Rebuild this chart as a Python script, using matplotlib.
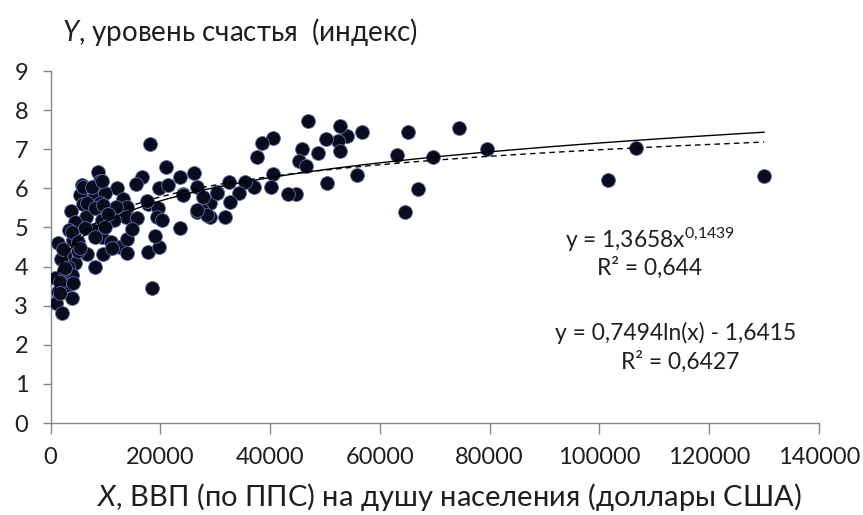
import matplotlib
matplotlib.use('Agg')
import matplotlib.pyplot as plt
import numpy as np

WIDTH = 863
HEIGHT = 515
DPI = 100

# GDP per capita (PPP, USD) and happiness index
gdp = [
    130000, 101600, 106700, 79600, 74500, 69600, 67000, 65200, 64500, 63200,
    56700, 54000, 52700, 52300, 50100, 52700, 48700, 46900, 45900, 45200,
    46500, 55900, 50300, 44700, 43200, 40500, 38500, 37600, 40500, 40100,
    37000, 35400, 34300, 32500, 32700, 31700, 29000, 29000, 30300, 27600,
    18100, 21000, 23600, 26100, 26700, 24100, 27800, 26700, 28500, 23600,
    19800, 16700, 15600, 12100, 8700, 9000, 5700, 5400, 7900, 9900,
    9000, 5900, 3700, 13200, 13900, 11900, 13700, 15700, 17700, 19600,
    19400, 20400, 6500, 9400, 4500, 3400, 7800, 9400, 11000, 12600,
    13900, 13900, 6600, 9600, 8100, 4500, 1400, 2600, 3200, 800,
    3900, 3000, 1400, 3900, 1000, 2100, 17700, 19800, 19000, 18400,
    4100, 3900, 5000, 6300, 8100, 6000, 7500, 9400, 6600, 8100,
    9600, 11500, 9900, 2000, 2500, 1800, 5000, 21400, 24100, 30300,
    17500, 26700, 5400, 11200, 2600, 4100, 1700, 2300, 10500, 14800,
]
happiness = [
    6.32, 6.21, 7.03, 7.00, 7.54, 6.80, 5.98, 7.44, 5.40, 6.85,
    7.45, 7.34, 7.60, 7.21, 7.26, 6.96, 6.90, 7.72, 7.00, 6.70,
    6.57, 6.34, 6.14, 5.86, 5.86, 7.29, 7.16, 6.80, 6.37, 6.04,
    6.04, 6.16, 5.88, 6.16, 5.65, 5.27, 5.27, 5.63, 5.91, 5.45,
    7.13, 6.55, 6.29, 6.39, 6.04, 5.86, 5.78, 5.40, 5.32, 4.99,
    6.01, 6.29, 6.11, 6.01, 6.42, 6.19, 6.09, 5.83, 5.78, 5.88,
    5.63, 5.60, 5.42, 5.73, 5.52, 5.52, 5.27, 5.24, 5.60, 5.50,
    5.27, 5.20, 5.27, 5.19, 5.14, 4.94, 4.94, 4.76, 4.63, 4.50,
    4.71, 4.35, 4.32, 4.32, 3.99, 4.09, 4.60, 4.30, 3.99, 3.71,
    3.79, 3.53, 3.35, 3.20, 3.07, 2.81, 4.37, 4.50, 4.78, 3.45,
    4.68, 4.88, 4.63, 4.99, 4.76, 6.04, 6.04, 6.20, 5.63, 5.50,
    5.58, 5.19, 5.01, 4.20, 3.90, 3.60, 4.40, 6.09, 5.83, 5.88,
    5.68, 5.45, 4.48, 4.48, 3.96, 3.58, 3.32, 4.45, 5.35, 4.95,
]

# trend lines as printed on the chart
pow_a, pow_b = 1.3658, 0.1439
log_a, log_b = 0.7494, -1.6415

y_ticks = list(range(0, 10))
x_ticks = list(range(0, 140001, 20000))

plt.rcParams['font.family'] = ['Lato', 'Noto Sans', 'DejaVu Sans']
plt.rcParams['mathtext.fontset'] = 'custom'
plt.rcParams['mathtext.rm'] = 'Lato'
plt.rcParams['mathtext.it'] = 'Lato:italic'

TXT = '#1e1e1e'
AXC = '#868686'

fig = plt.figure(figsize=(WIDTH / DPI, HEIGHT / DPI), dpi=DPI)
ax = fig.add_axes([50.5 / WIDTH, 92 / HEIGHT, 768.5 / WIDTH, 352 / HEIGHT])

ax.scatter(gdp, happiness, s=100, facecolor='#0a0c1e', edgecolor='#5d6da8',
           linewidth=0.6, zorder=3)

xs = np.linspace(min(gdp), max(gdp), 400)
ax.plot(xs, pow_a * xs ** pow_b, color='black', lw=1.0, zorder=4)
ax.plot(xs, log_a * np.log(xs) + log_b, color='black', lw=1.0,
        dashes=(4, 3), zorder=4)

ax.set_xlim(0, 140000)
ax.set_ylim(0, 9)
ax.set_xticks(x_ticks)
ax.set_yticks(y_ticks)
ax.set_xticklabels([str(v) for v in x_ticks])
ax.set_yticklabels([str(v) for v in y_ticks])

for side in ('top', 'right'):
    ax.spines[side].set_visible(False)
for side in ('left', 'bottom'):
    ax.spines[side].set_color(AXC)
    ax.spines[side].set_linewidth(1.0)
ax.tick_params(axis='x', direction='out', length=8, width=1, color=AXC,
               labelsize=17, labelcolor=TXT, pad=9)
ax.tick_params(axis='y', direction='out', length=6, width=1, color=AXC,
               labelsize=17, labelcolor=TXT, pad=10)


def fig_xy(px, py):
    return px / WIDTH, 1 - py / HEIGHT


# equations of the trend lines
for px, py, s in [(650, 240, r'y = 1,3658x$^{0{,}1439}$'),
                  (650, 268, 'R² = 0,644'),
                  (676, 333, 'y = 0,7494ln(x) - 1,6415'),
                  (680, 362, 'R² = 0,6427')]:
    fig.text(*fig_xy(px, py), s, ha='center', va='center', fontsize=16.4, color=TXT)

fig.text(*fig_xy(62, 32), r'$Y$, уровень счастья  (индекс)',
         ha='left', va='center', fontsize=20, color=TXT)
fig.text(*fig_xy(449, 497), r'$X$, ВВП (по ППС) на душу населения (доллары США)',
         ha='center', va='center', fontsize=21, color=TXT)

fig.savefig('out.png', dpi=DPI)
